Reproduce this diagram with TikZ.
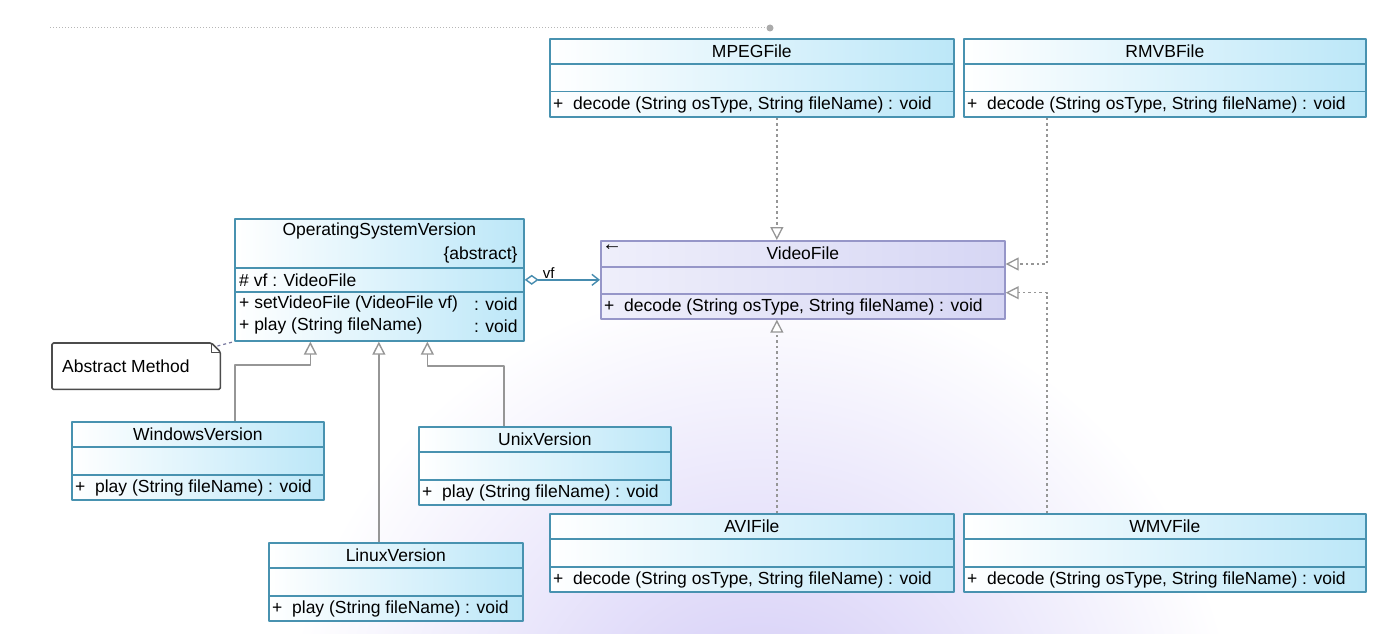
\documentclass[tikz,border=0pt]{standalone}
\usepackage{fontspec}
\setmainfont{Liberation Sans}
\usetikzlibrary{arrows.meta}
\definecolor{clsline}{RGB}{72,146,176}
\definecolor{clsfill}{RGB}{188,231,248}
\definecolor{vfline}{RGB}{150,150,200}
\definecolor{vffill}{RGB}{214,214,244}
\definecolor{connline}{RGB}{150,150,150}
\definecolor{aggline}{RGB}{70,140,175}
\definecolor{bgviolet}{RGB}{208,200,246}
\begin{document}
\begin{tikzpicture}[x=1pt, y=-1pt, line join=round,
    txt/.style={inner sep=0pt, font=\fontsize{17.5}{20}\selectfont},
    cls/.style={draw=clsline, line width=1.7pt, left color=white, right color=clsfill,
      minimum height=78, inner sep=0pt, anchor=north west},
    sep/.style={draw=clsline, line width=1.6pt},
    real/.style={draw=connline, line width=1.3pt, dash pattern=on 2.5pt off 3pt,
      -{Triangle[open, length=13, width=13, fill=white, line width=1.3pt]}},
    gen/.style={draw=connline, line width=1.4pt,
      -{Triangle[open, length=13, width=13, fill=white]}},
    agg/.style={draw=aggline, line width=1.4pt,
      {Diamond[open, length=14, width=10, fill=white]}-{Straight Barb[length=7, width=11]}}]
  \useasboundingbox (0,0) rectangle (1390,634);
  \fill[white] (0,0) rectangle (1390,634);
  \begin{scope}
    \clip (0,0) rectangle (1390,634);
    \shade[inner color=bgviolet, outer color=white] (760,760) circle (480);
  \end{scope}
  \draw[connline!70, line width=1pt, dotted] (50,28) -- (768,28);
  \fill[connline!80] (770,28) circle (3.5);

  % the seven plain classes
  \foreach \n/\x/\y/\w/\t/\m in {
      mpeg/549/38/404/MPEGFile/{+\ \ decode (String osType, String fileName) : void},
      rmvb/963/38/402/RMVBFile/{+\ \ decode (String osType, String fileName) : void},
      avi/549/513/404/AVIFile/{+\ \ decode (String osType, String fileName) : void},
      wmv/963/513/402/WMVFile/{+\ \ decode (String osType, String fileName) : void},
      win/71/421/252/WindowsVersion/{+\ \ play (String fileName) : void},
      unix/418/426/252/UnixVersion/{+\ \ play (String fileName) : void},
      lin/268/542/254/LinuxVersion/{+\ \ play (String fileName) : void}}{
    \node[cls, minimum width=\w] (\n) at (\x,\y) {};
    \draw[sep] ([yshift=-26]\n.north west) -- ([yshift=-26]\n.north east);
    \draw[sep] ([yshift=26]\n.south west) -- ([yshift=26]\n.south east);
    \node[txt] (\n-t) at ([yshift=-13]\n.north) {\t};
    \node[txt, anchor=west] (\n-m) at ([xshift=4,yshift=13]\n.south west) {\m};
  }

  % abstract class
  \node[cls, minimum width=289, minimum height=122] (osv) at (234,218) {};
  \draw[sep] ([yshift=-50]osv.north west) -- ([yshift=-50]osv.north east);
  \draw[sep] ([yshift=-74]osv.north west) -- ([yshift=-74]osv.north east);
  \node[txt] (osv-t) at ([yshift=-13]osv.north) {OperatingSystemVersion};
  \node[txt, anchor=east] (osv-s) at ([xshift=-7,yshift=-37]osv.north east) {\{abstract\}};
  \node[txt, anchor=west] (osv-a) at ([xshift=5,yshift=-62]osv.north west) {\# vf : VideoFile};
  \node[txt, anchor=west] (osv-m1) at ([xshift=5,yshift=-86]osv.north west) {+ setVideoFile (VideoFile vf)};
  \node[txt, anchor=east] (osv-r1) at ([xshift=-7,yshift=-86]osv.north east) {: void};
  \node[txt, anchor=west] (osv-m2) at ([xshift=5,yshift=-108]osv.north west) {+ play (String fileName)};
  \node[txt, anchor=east] (osv-r2) at ([xshift=-7,yshift=-108]osv.north east) {: void};

  % interface
  \node[cls, draw=vfline, left color=white!60!vffill, right color=vffill,
    minimum width=404] (vf) at (600,240) {};
  \draw[sep, draw=vfline] ([yshift=-27]vf.north west) -- ([yshift=-27]vf.north east);
  \draw[sep, draw=vfline] ([yshift=26]vf.south west) -- ([yshift=26]vf.south east);
  \node[txt] (vf-t) at ([yshift=-13]vf.north) {VideoFile};
  \node[inner sep=0pt, font=\fontsize{20}{20}\selectfont] (vf-k) at ([xshift=12,yshift=-8]vf.north west) {←};
  \node[txt, anchor=west] (vf-m) at ([xshift=4,yshift=13]vf.south west) {+\ \ decode (String osType, String fileName) : void};

  % note
  \node[minimum width=168, minimum height=46, inner sep=0pt, anchor=north west] (note) at (52,343) {};
  \draw[draw=black!70, line width=1.6pt, rounded corners=1.5pt]
    (note.north west) -- ([xshift=-9]note.north east) -- ([yshift=-9]note.north east)
    -- (note.south east) -- (note.south west) -- cycle;
  \draw[draw=black!70, line width=1pt] ([xshift=-9]note.north east) |- ([yshift=-9]note.north east);
  \node[txt, anchor=west] (note-t) at ([xshift=10]note.west) {Abstract Method};
  \draw[draw=vfline!80!black, line width=1.2pt, dashed] ([xshift=-3,yshift=-3]note.north east) -- (osv.south west);

  % realizations
  \draw[real] ([xshift=25]mpeg.south) -- ([xshift=25]mpeg.south |- vf.north);
  \draw[real] ([xshift=25]avi.north) -- ([xshift=25]avi.north |- vf.south);
  \draw[real] ([xshift=-118]rmvb.south) |- ([yshift=-24]vf.north east);
  \draw[real] ([xshift=-118]wmv.north) |- ([yshift=27]vf.south east);

  % generalizations
  \draw[gen] ([xshift=37]win.north) -- ++(0,-56) -| ([xshift=-69]osv.south);
  \draw[gen] ([xshift=-17]lin.north) -- ([xshift=-17]lin.north |- osv.south);
  \draw[gen] ([xshift=-41]unix.north) -- ++(0,-60) -| ([xshift=48]osv.south);

  % aggregation
  \draw[agg] (osv.east) -- (vf.west) node[txt, pos=0.32, above=1pt, font=\fontsize{15}{15}\selectfont] (vf-l) {vf};
\end{tikzpicture}
\end{document}
